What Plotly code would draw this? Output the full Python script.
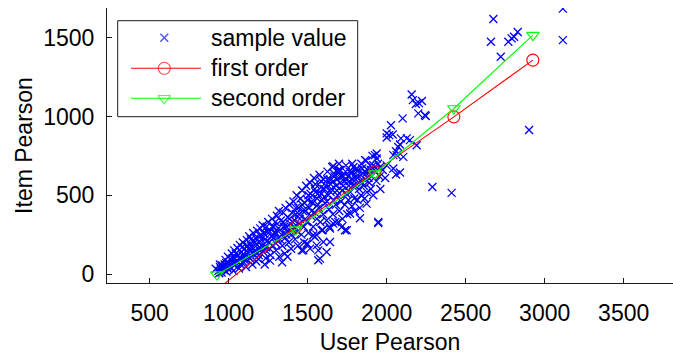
import plotly.graph_objects as go

# ---------------------------------------------------------------------------
# Data
# ---------------------------------------------------------------------------
# Dense core of the sample cloud (User Pearson, Item Pearson)
core_samples = [
    (935, 20), (945, 45), (955, 10), (950, 30), (960, 55), (940, 5), (918, 34), (945, 60),
    (970, 25), (975, 60), (980, 90), (985, 15), (990, 45), (995, 110), (1000, 70), (998, 30),
    (1010, 95), (1015, 40), (1020, 130), (1025, 65), (1030, 20), (1035, 150), (1040, 100), (1038, 55),
    (1050, 80), (1055, 165), (1060, 120), (1065, 35), (1070, 185), (1075, 60), (1080, 140), (1078, 100),
    (1090, 200), (1095, 75), (1100, 160), (1105, 115), (1110, 45), (1115, 215), (1120, 135), (1118, 180), (1112, 90),
    (1130, 240), (1135, 100), (1140, 190), (1145, 150), (1150, 60), (1155, 260), (1160, 210), (1158, 125), (1148, 170),
    (1170, 230), (1175, 80), (1180, 275), (1185, 160), (1190, 120), (1195, 200), (1200, 290), (1198, 245), (1188, 95),
    (1210, 180), (1215, 310), (1220, 140), (1225, 255), (1230, 220), (1235, 100), (1240, 300), (1238, 170), (1228, 60),
    (1250, 330), (1255, 200), (1260, 270), (1265, 120), (1270, 240), (1275, 350), (1280, 180), (1278, 300), (1262, 85),
    (1290, 260), (1295, 330), (1300, 150), (1305, 370), (1310, 220), (1315, 290), (1320, 110), (1318, 400), (1298, 195),
    (1330, 340), (1335, 250), (1340, 180), (1345, 390), (1350, 300), (1355, 130), (1360, 420), (1358, 230), (1338, 75),
    (1370, 270), (1375, 360), (1380, 200), (1385, 440), (1390, 320), (1395, 160), (1400, 390), (1398, 250), (1372, 110),
    (1410, 460), (1415, 300), (1420, 220), (1425, 380), (1430, 500), (1435, 270), (1440, 420), (1438, 180), (1418, 340),
    (1450, 350), (1455, 480), (1460, 250), (1465, 530), (1470, 400), (1475, 300), (1480, 450), (1478, 200), (1462, 150),
    (1490, 560), (1495, 330), (1500, 470), (1505, 260), (1510, 420), (1515, 580), (1520, 370), (1518, 510), (1500, 190),
    (1530, 450), (1535, 300), (1540, 610), (1545, 390), (1550, 520), (1555, 250), (1560, 480), (1558, 350), (1548, 570),
    (1570, 420), (1575, 630), (1580, 330), (1585, 550), (1590, 470), (1595, 280), (1600, 600), (1598, 380), (1588, 510),
    (1610, 450), (1615, 560), (1620, 340), (1625, 650), (1630, 500), (1635, 410), (1640, 600), (1638, 300), (1622, 460),
    (1650, 540), (1655, 680), (1660, 380), (1665, 470), (1670, 620), (1675, 330), (1680, 560), (1678, 440), (1662, 590),
    (1690, 500), (1695, 660), (1700, 400), (1705, 580), (1710, 460), (1715, 620), (1720, 350), (1718, 530), (1698, 700),
    (1730, 590), (1735, 440), (1740, 650), (1745, 510), (1750, 380), (1755, 620), (1760, 560), (1758, 470), (1742, 690),
    (1770, 520), (1775, 640), (1780, 430), (1785, 600), (1790, 680), (1795, 480), (1800, 560), (1798, 400), (1782, 700),
    (1810, 620), (1815, 470), (1820, 660), (1825, 540), (1830, 420), (1835, 590), (1840, 700), (1838, 500),
    (1850, 640), (1855, 560), (1860, 480), (1865, 600), (1870, 720), (1875, 520), (1880, 660),
    (1890, 580), (1895, 690), (1900, 540), (1905, 620), (1910, 750), (1915, 500), (1920, 660),
    (1935, 590), (1945, 700), (1955, 620), (1960, 540),
    (1975, 660), (1990, 610), (2000, 690),
]

# Additional samples packed along the middle of the band
band_samples = [
    (965, 40), (985, 70), (1005, 50), (1025, 100), (1045, 70), (1045, 130), (1065, 100),
    (1085, 120), (1085, 170), (1100, 90), (1125, 160), (1125, 110), (1140, 220), (1165, 150),
    (1165, 200), (1180, 130), (1205, 220), (1205, 160), (1220, 260), (1245, 210), (1245, 270),
    (1260, 160), (1285, 230), (1285, 300), (1300, 260), (1325, 280), (1325, 220), (1345, 330),
    (1365, 300), (1365, 250), (1385, 350), (1405, 330), (1405, 280), (1425, 420), (1445, 380),
    (1445, 320), (1465, 440), (1485, 400), (1485, 350), (1505, 500), (1525, 460), (1525, 400),
    (1545, 540), (1565, 510), (1565, 440), (1585, 590), (1605, 540), (1605, 490), (1625, 600),
    (1645, 570), (1645, 520), (1665, 640), (1685, 600), (1685, 530), (1705, 660), (1725, 620),
    (1725, 560), (1745, 600), (1765, 650), (1765, 590), (1785, 560), (1805, 660), (1805, 600),
    (1825, 620), (1845, 670), (1845, 580), (1870, 640), (1885, 610), (1900, 660),
]

# Sparser samples below the main band
lower_samples = [
    (1494, 193), (1535, 246), (1567, 87), (1620, 140), (1599, 203), (1589, 278), (1641, 289),
    (1715, 299), (1747, 278), (1947, 324), (1557, 182), (1515, 161), (1472, 151), (1662, 320),
    (1768, 384), (1546, 235), (1578, 98), (1567, 150), (1641, 203), (1736, 278), (1694, 331),
    (1831, 354), (1873, 447), (1947, 331),
]

# Samples above and to the right of the band
upper_samples = [
    (1662, 685), (1694, 645), (1778, 648), (1704, 617), (1863, 723), (1926, 755), (1937, 734),
    (1915, 691), (1958, 680), (1937, 765), (2042, 670), (2084, 645), (2059, 632), (2042, 755),
    (2063, 755), (2105, 744), (2059, 780), (2073, 807), (2084, 822), (2190, 818), (2000, 867),
    (2016, 882), (2038, 886), (2000, 893), (2090, 861), (2127, 861), (2147, 850), (2027, 945),
    (2101, 988), (2200, 1020), (2247, 1003), (2242, 1009), (2166, 1104), (2185, 1079),
    (2204, 1085), (2223, 1098), (2158, 1140), (2289, 553), (2411, 515), (2901, 914),
    (2722, 1380), (2660, 1475), (2770, 1475), (2791, 1496), (2806, 1507), (2829, 1537),
    (2675, 1619), (3115, 1485), (3115, 1685),
]

samples = core_samples + band_samples + lower_samples + upper_samples
user_pearson = [p[0] for p in samples]
item_pearson = [p[1] for p in samples]

# Fitted curves evaluated at the bin centres
fit_x = [925, 1425, 1925, 2425, 2925]
first_order = [-100, 299, 650, 998, 1358]
second_order = [-4, 282, 638, 1051, 1517]

x_ticks = [500, 1000, 1500, 2000, 2500, 3000, 3500]
y_ticks = [0, 500, 1000, 1500]
x_range = [230, 3812]
y_range = [-57, 1689]

legend_labels = ["sample value", "first order", "second order"]

# ---------------------------------------------------------------------------
# Figure
# ---------------------------------------------------------------------------
W, H = 673, 355
ML, MR, MT, MB = 107, 0, 8, 72
FONT = "Liberation Sans, Arial, Helvetica, sans-serif"
FS = 23
BLUE, RED, GREEN = "#0000ff", "#ff0000", "#00ff00"
AXIS = "#1a1a1a"


def px_x(px):
    return (px - ML) / (W - ML - MR)


def px_y(py):
    return (H - MB - py) / (H - MT - MB)


fig = go.Figure()

fig.add_trace(go.Scatter(
    x=user_pearson, y=item_pearson, mode="markers", name=legend_labels[0],
    marker=dict(symbol="x-thin", size=8, color=BLUE, line=dict(width=1.3, color=BLUE)),
    showlegend=False,
))
fig.add_trace(go.Scatter(
    x=fit_x, y=first_order, mode="lines+markers", name=legend_labels[1],
    line=dict(color=RED, width=1.1),
    marker=dict(symbol="circle-open", size=12, color=RED, line=dict(width=1.1, color=RED)),
    showlegend=False,
))
fig.add_trace(go.Scatter(
    x=fit_x, y=second_order, mode="lines+markers", name=legend_labels[2],
    line=dict(color=GREEN, width=1.1),
    marker=dict(symbol="triangle-down-open", size=11, color=GREEN, line=dict(width=1.1, color=GREEN)),
    showlegend=False,
))

# Legend box drawn by hand so the sample lines keep their long form
row_py = [37.7, 68.3, 98.3]
line_x0, line_x1, glyph_px, text_px = 131, 201, 164.3, 209
shapes = [dict(
    type="rect", xref="paper", yref="paper",
    x0=px_x(117.7), x1=px_x(357.7), y0=px_y(116.7), y1=px_y(20.7),
    line=dict(color=AXIS, width=1), fillcolor="white", layer="below",
)]
for py, col in zip(row_py[1:], [RED, GREEN]):
    shapes.append(dict(
        type="line", xref="paper", yref="paper",
        x0=px_x(line_x0), x1=px_x(line_x1), y0=px_y(py), y1=px_y(py),
        line=dict(color=col, width=1.1), layer="below",
    ))

fig.add_trace(go.Scatter(
    x=[px_x(glyph_px)] * 3, y=[px_y(py) for py in row_py],
    xaxis="x2", yaxis="y2", mode="markers", hoverinfo="skip", showlegend=False,
    marker=dict(
        symbol=["x-thin", "circle-open", "triangle-down-open"],
        size=[8, 12, 11], color=[BLUE, RED, GREEN],
        line=dict(width=[1.3, 1.1, 1.1], color=[BLUE, RED, GREEN]),
    ),
))

annotations = [
    dict(text=lab, xref="paper", yref="paper", x=px_x(text_px), y=px_y(py),
         xanchor="left", yanchor="middle", showarrow=False,
         font=dict(family=FONT, size=FS, color="black"))
    for lab, py in zip(legend_labels, row_py)
]

fig.update_layout(
    width=W, height=H,
    margin=dict(l=ML, r=MR, t=MT, b=MB, pad=0),
    paper_bgcolor="white", plot_bgcolor="white",
    font=dict(family=FONT, size=FS, color="black"),
    showlegend=False,
    shapes=shapes, annotations=annotations,
    xaxis=dict(
        range=x_range, tickvals=x_ticks, ticks="inside", ticklen=5, tickwidth=1,
        tickcolor=AXIS, showline=True, linecolor=AXIS, linewidth=1,
        showgrid=False, zeroline=False, ticklabelstandoff=9,
        tickfont=dict(family=FONT, size=FS, color="black"),
        title=dict(text="User Pearson", standoff=10, font=dict(family=FONT, size=FS, color="black")),
    ),
    yaxis=dict(
        range=y_range, tickvals=y_ticks, ticks="inside", ticklen=5, tickwidth=1,
        tickcolor=AXIS, showline=True, linecolor=AXIS, linewidth=1,
        showgrid=False, zeroline=False, ticklabelstandoff=7,
        tickfont=dict(family=FONT, size=FS, color="black"),
        title=dict(text="Item Pearson", standoff=4, font=dict(family=FONT, size=FS, color="black")),
    ),
    xaxis2=dict(overlaying="x", range=[0, 1], visible=False, fixedrange=True),
    yaxis2=dict(overlaying="y", range=[0, 1], visible=False, fixedrange=True),
)

fig.write_html("out.html")
